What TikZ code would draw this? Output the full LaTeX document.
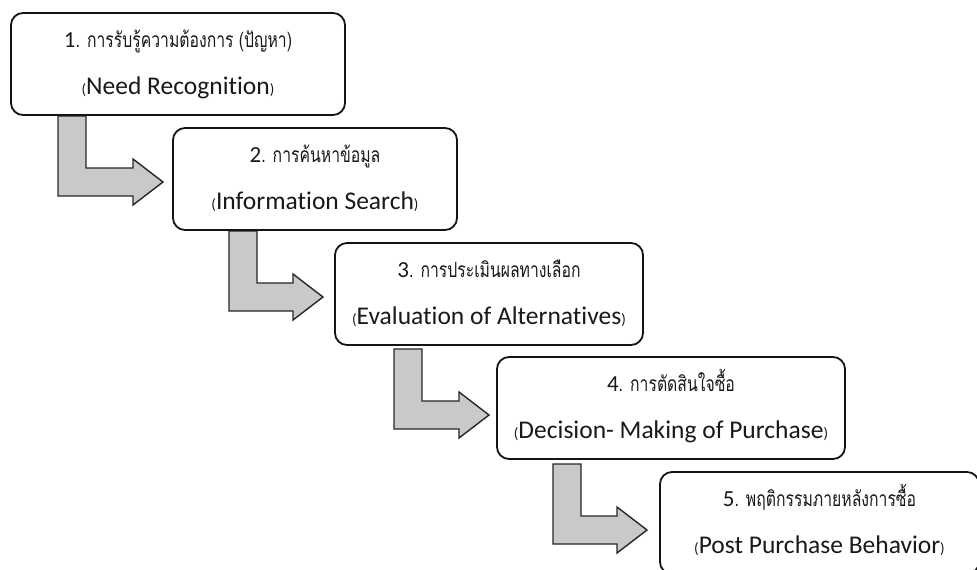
\documentclass[tikz,border=0pt]{standalone}
\usepackage{fontspec}
\setmainfont[Ligatures={NoCommon}]{Carlito}
\newfontfamily\thai[Script=Thai,FakeStretch=0.75]{Loma}
\usetikzlibrary{calc}
\newcommand\engline[1]{{\fontsize{15}{15}\selectfont(}{\fontsize{25.5}{25.5}\selectfont #1}{\fontsize{15}{15}\selectfont)}}
\newcommand\thline[2]{{\fontsize{23}{23}\selectfont #1}{\thai\fontsize{21}{21}\selectfont. #2}}
\newcommand\blockarrow[4]{%
  \draw[arrowshape] (#1,#2) -- (#1+28,#2) -- (#1+28,#3-14) -- (#4-30,#3-14) -- (#4-30,#3-23)
    -- (#4,#3) -- (#4-30,#3+23) -- (#4-30,#3+14) -- (#1,#3+14) -- cycle;}
\begin{document}
\begin{tikzpicture}[x=1pt,y=-1pt,
  stagebox/.style={draw=black!92,line width=1.8pt,rounded corners=12pt,fill=white,
    minimum height=102pt,anchor=north west,inner sep=0pt,outer sep=0pt},
  txt/.style={anchor=base,inner sep=0pt,text=black!90},
  arrowshape/.style={draw=black!85,line width=1.4pt,fill=black!21,line join=miter}]
\useasboundingbox (0,0) rectangle (977,570);
\begin{scope}
\clip (0,0) rectangle (977,570);
% block arrows
\blockarrow{58}{116}{182}{163}
\blockarrow{229}{231}{297}{323}
\blockarrow{394}{349}{415}{489}
\blockarrow{553}{464}{530}{647}
% boxes
\node[stagebox,minimum width=334pt] (b1) at (11,13) {};
\node[stagebox,minimum width=284pt] (b2) at (173,128) {};
\node[stagebox,minimum width=308pt] (b3) at (335,243) {};
\node[stagebox,minimum width=348pt] (b4) at (497,357) {};
\node[stagebox,minimum width=319pt] (b5) at (660,472) {};
% texts
\node[txt] (t1a) at ($(b1.north)+(0,34)$) {\thline{1}{การรับรู้ความต้องการ (ปัญหา)}};
\node[txt] (t1b) at ($(b1.north)+(0,81)$) {\engline{Need Recognition}};
\node[txt] (t2a) at ($(b2.north)+(0,34)$) {\thline{2}{การค้นหาข้อมูล}};
\node[txt] (t2b) at ($(b2.north)+(0,81)$) {\engline{Information Search}};
\node[txt] (t3a) at ($(b3.north)+(0,34)$) {\thline{3}{การประเมินผลทางเลือก}};
\node[txt] (t3b) at ($(b3.north)+(0,81)$) {\engline{Evaluation of Alternatives}};
\node[txt] (t4a) at ($(b4.north)+(0,34)$) {\thline{4}{การตัดสินใจซื้อ}};
\node[txt] (t4b) at ($(b4.north)+(0,81)$) {\engline{Decision- Making of Purchase}};
\node[txt] (t5a) at ($(b5.north)+(0,34)$) {\thline{5}{พฤติกรรมภายหลังการซื้อ}};
\node[txt] (t5b) at ($(b5.north)+(0,81)$) {\engline{Post Purchase Behavior}};
\end{scope}
\end{tikzpicture}
\end{document}
